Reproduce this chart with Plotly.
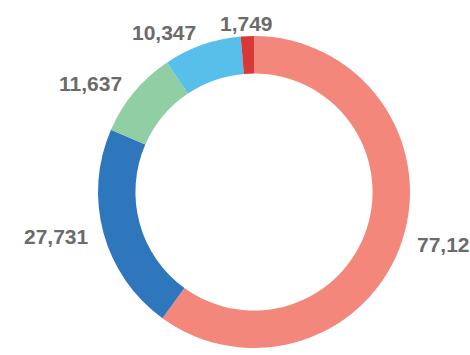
import math
import plotly.graph_objects as go

# Slice values, in clockwise order from the top
categories = ["A", "B", "C", "D", "E"]
values = [77129, 27731, 11637, 10347, 1749]
colors = ["#f4877c", "#2e77bd", "#8fcfa3", "#57bfea", "#d73a36"]

W, H = 470, 355
dom_x = [0.2085, 0.8723]
dom_y = [0.0197, 0.8986]

fig = go.Figure(
    go.Pie(
        labels=categories,
        values=values,
        hole=0.76,
        sort=False,
        direction="clockwise",
        rotation=0,
        marker=dict(colors=colors, line=dict(width=0)),
        textinfo="none",
        domain=dict(x=dom_x, y=dom_y),
        showlegend=False,
        hoverinfo="label+value",
    )
)

# Value labels just outside the ring, placed at each slice's mid-angle
cx = (dom_x[0] + dom_x[1]) / 2 * W
cy = (dom_y[0] + dom_y[1]) / 2 * H
radius = min((dom_x[1] - dom_x[0]) * W, (dom_y[1] - dom_y[0]) * H) / 2
label_r = radius * 1.083
total = sum(values)
start = 0.0
for v in values:
    mid = math.radians((start + v / 2) / total * 360)
    start += v
    dx, dy = math.sin(mid), math.cos(mid)
    if dx > 0.15:
        xa = "left"
    elif dx < -0.15:
        xa = "right"
    else:
        xa = "center"
    fig.add_annotation(
        x=(cx + label_r * dx) / W,
        y=(cy + label_r * dy) / H,
        xref="paper",
        yref="paper",
        text=f"{v:,}",
        showarrow=False,
        xanchor=xa,
        yanchor="middle",
        font=dict(family="Liberation Sans, Arial, sans-serif", size=21,
                  color="#6b6b6b", weight="bold"),
    )

fig.update_layout(
    width=W,
    height=H,
    margin=dict(l=0, r=0, t=0, b=0),
    paper_bgcolor="white",
    plot_bgcolor="white",
)

fig.write_html("out.html")
